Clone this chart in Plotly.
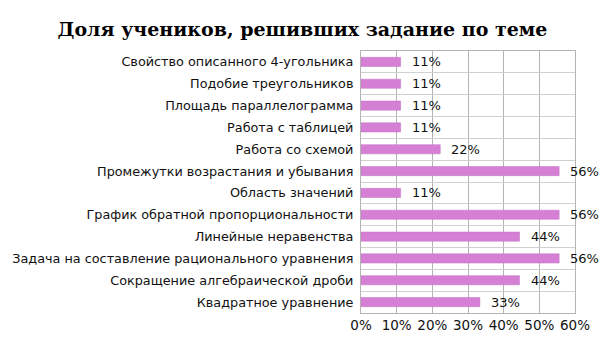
import plotly.graph_objects as go

# Topics, top to bottom
topics = [
    "Свойство описанного 4-угольника",
    "Подобие треугольников",
    "Площадь параллелограмма",
    "Работа с таблицей",
    "Работа со схемой",
    "Промежутки возрастания и убывания",
    "Область значений",
    "График обратной пропорциональности",
    "Линейные неравенства",
    "Задача на составление рационального уравнения",
    "Сокращение алгебраической дроби",
    "Квадратное уравнение",
]
# Share of students who solved each task (fraction)
shares = [1/9, 1/9, 1/9, 1/9, 2/9, 5/9, 1/9, 5/9, 4/9, 5/9, 4/9, 3/9]
x_ticks = [0, 0.1, 0.2, 0.3, 0.4, 0.5, 0.6]
x_tick_labels = ["0%", "10%", "20%", "30%", "40%", "50%", "60%"]

bar_color = "#d580d5"

fig = go.Figure()
fig.add_trace(go.Bar(
    x=shares,
    y=topics,
    orientation="h",
    width=0.42,
    marker=dict(color=bar_color, line=dict(color="#c070c0", width=0.5)),
    hoverinfo="skip",
))

# Percentage labels to the right of each bar
for topic, v in zip(topics, shares):
    fig.add_annotation(
        x=v, y=topic, xref="x", yref="y",
        text=f"{round(v * 100)}%",
        showarrow=False, xanchor="left", xshift=9,
        font=dict(family="DejaVu Sans", size=13, color="#111111"),
    )

fig.update_layout(
    width=605, height=340,
    margin=dict(l=361, r=30, t=51, b=27),
    paper_bgcolor="white", plot_bgcolor="white",
    showlegend=False,
    title=dict(
        text="<b>Доля учеников, решивших задание по теме</b>",
        x=0.5, xanchor="center", y=0.915, yanchor="middle",
        font=dict(family="DejaVu Serif", size=19, color="#000000"),
    ),
    bargap=0.58,
)
fig.update_xaxes(
    range=[0, 0.6],
    tickvals=x_ticks, ticktext=x_tick_labels,
    showgrid=True, gridcolor="#b3b3b3", gridwidth=1,
    showline=True, linecolor="#b3b3b3", mirror=True,
    zeroline=False, ticks="", automargin=False,
    tickfont=dict(family="DejaVu Sans", size=13.5, color="#111111"),
    fixedrange=True,
)
fig.update_yaxes(
    categoryorder="array", categoryarray=topics,
    autorange="reversed",
    tickson="boundaries",
    showgrid=True, gridcolor="#d0d0d0", gridwidth=1,
    showline=True, linecolor="#b3b3b3", mirror=True,
    ticks="", ticklabelstandoff=4, automargin=False,
    tickfont=dict(family="DejaVu Sans", size=12.8, color="#111111"),
    fixedrange=True,
)

fig.write_html("out.html")
